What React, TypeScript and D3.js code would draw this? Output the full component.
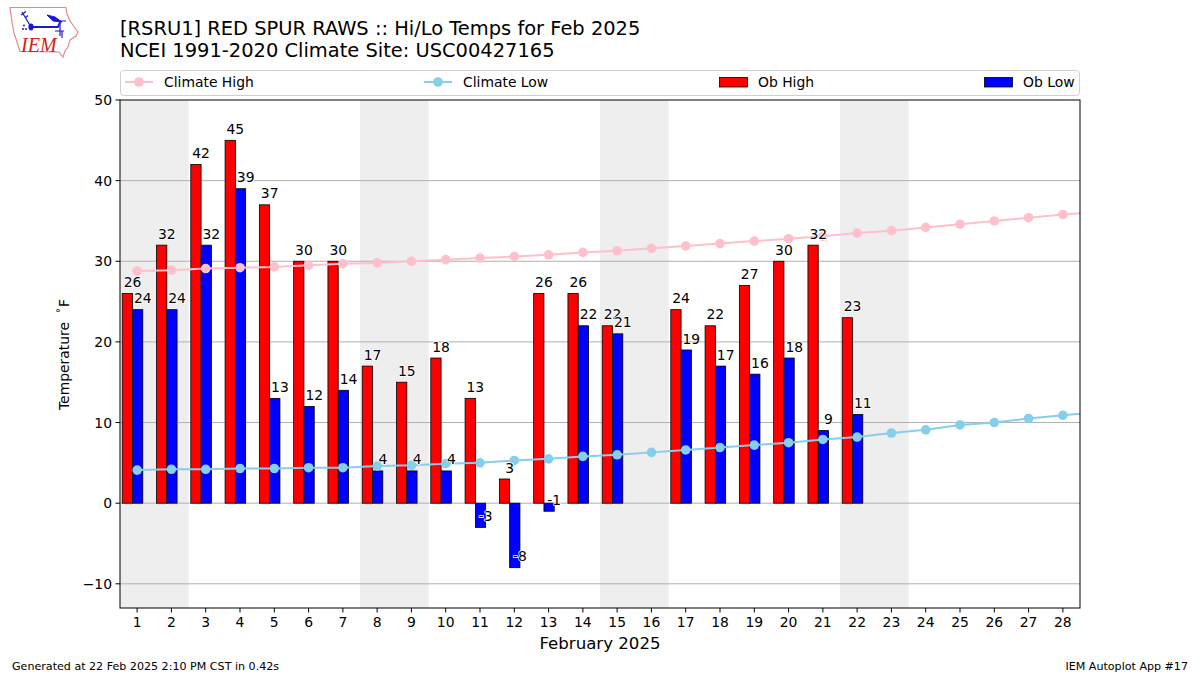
import React from "react";
import * as d3 from "d3";

const days = d3.range(1, 29);
const obHigh = [26, 32, 42, 45, 37, 30, 30, 17, 15, 18, 13, 3, 26, 26, 22, null, 24, 22, 27, 30, 32, 23];
const obLow = [24, 24, 32, 39, 13, 12, 14, 4, 4, 4, -3, -8, -1, 22, 21, null, 19, 17, 16, 18, 9, 11];
const climateHigh = [28.8, 28.9, 29.1, 29.2, 29.3, 29.5, 29.7, 29.8, 30.0, 30.2, 30.4, 30.6, 30.8, 31.1, 31.3, 31.6, 31.9, 32.2, 32.5, 32.8, 33.1, 33.5, 33.8, 34.2, 34.6, 35.0, 35.4, 35.8, 36.1];
const climateLow = [4.1, 4.2, 4.2, 4.3, 4.3, 4.4, 4.4, 4.6, 4.7, 4.9, 5.0, 5.3, 5.5, 5.8, 6.0, 6.3, 6.6, 6.9, 7.2, 7.5, 7.9, 8.2, 8.7, 9.1, 9.7, 10.0, 10.5, 10.9, 11.3];
const weekendBands = [[0.5, 2.5], [7.5, 9.5], [14.5, 16.5], [21.5, 23.5]];
const yTicks = [-10, 0, 10, 20, 30, 40, 50];
const titleLines = ["[RSRU1] RED SPUR RAWS :: Hi/Lo Temps for Feb 2025", "NCEI 1991-2020 Climate Site: USC00427165"];

const FONT = "'DejaVu Sans', sans-serif";
const box = { left: 120, right: 1080, top: 100, bottom: 608 };
const x = d3.scaleLinear().domain([0.5, 28.5]).range([box.left, box.right]);
const y = d3.scaleLinear().domain([50, -13]).range([box.top, box.bottom]);
const HIGH_START = -0.435, BAR_W = 0.3;
const line = d3.line<number>().x((_, i) => x(i + 1)).y((d) => y(d));

function Label({ px, py, text }: { px: number; py: number; text: string }) {
  return (
    <text x={px} y={py} textAnchor="middle" fontSize={13.9} fill="#000" stroke="#fff" strokeWidth={1.6}
      strokeLinejoin="round" paintOrder="stroke">{text}</text>
  );
}

function Logo() {
  return (
    <g>
      <path d="M10 7.5 L66 7.5 L67 14 L70 21 L78 32 L76 36 L70 40 L68 47 L65 51 L63 57 L59 52 L20 51.5 L17 42 L14 33 L12 22 Z"
        fill="none" stroke="#e58a8a" strokeWidth={1.2} />
      <path d="M22 12 L25 17 L31 27 M21 15 L26 11.5 M25 18 L28 15.5" fill="none" stroke="#1a1ad0" strokeWidth={1.3} />
      <path d="M31 27 L58 27 L60 22" fill="none" stroke="#1a1ad0" strokeWidth={1.8} />
      <ellipse cx={31} cy={27} rx={2.6} ry={3.4} fill="#1a1ad0" />
      <path d="M47 15 L55 17 L62 22 L53 21 Z M60 21 L66 21" fill="#1a1ad0" stroke="#1a1ad0" strokeWidth={1} />
      <path d="M60 21 L60 36 M55 31 L64 31 M62 31 L62 38" stroke="#1a1ad0" strokeWidth={1.2} fill="none" />
      <circle cx={24} cy={25.5} r={1} fill="#1a1ad0" /><circle cx={23} cy={29} r={1} fill="#1a1ad0" /><circle cx={26} cy={29} r={1} fill="#1a1ad0" />
      <text x={21} y={52} fontFamily="'Liberation Serif', serif" fontStyle="italic" fontSize={20} fill="#d32020">IEM</text>
    </g>
  );
}

export default function App() {
  return (
    <svg width={1200} height={675} viewBox="0 0 1200 675"
      style={{ position: "absolute", left: 0, top: 0, background: "#fff" }} fontFamily={FONT}>
      <defs>
        <clipPath id="plot"><rect x={box.left} y={box.top} width={box.right - box.left} height={box.bottom - box.top} /></clipPath>
      </defs>
      <Logo />
      {titleLines.map((t, i) => (
        <text key={t} x={120} y={35 + i * 22} fontSize={19.45} fill="#000">{t}</text>
      ))}

      <rect x={120.5} y={70.5} width={959} height={25} rx={3} fill="#fff" stroke="#d0d0d0" />
      <g fontSize={13.9} fill="#000">
        {[["Climate High", "pink", 125], ["Climate Low", "skyblue", 424]].map(([label, c, lx]) => (
          <g key={label as string}>
            <line x1={lx as number} x2={(lx as number) + 28} y1={82} y2={82} stroke={c as string} strokeWidth={2} />
            <circle cx={(lx as number) + 14} cy={82} r={4.8} fill={c as string} />
            <text x={(lx as number) + 39} y={87}>{label}</text>
          </g>
        ))}
        {[["Ob High", "#ff0000", 719], ["Ob Low", "#0000ff", 984]].map(([label, c, lx]) => (
          <g key={label as string}>
            <rect x={(lx as number) + 0.5} y={77.5} width={28} height={9.5} fill={c as string} stroke="#000" strokeWidth={0.8} />
            <text x={(lx as number) + 39} y={87}>{label}</text>
          </g>
        ))}
      </g>

      {weekendBands.map(([a, b]) => (
        <rect key={a} x={x(a)} y={box.top} width={x(b) - x(a)} height={box.bottom - box.top} fill="#eeeeee" />
      ))}
      {yTicks.filter((t) => t !== 50).map((t) => (
        <line key={t} x1={box.left} x2={box.right} y1={y(t)} y2={y(t)} stroke="#b0b0b0" strokeWidth={1} />
      ))}

      {obHigh.map((v, i) => v === null ? null : (
        <rect key={i} x={x(i + 1 + HIGH_START)} width={x(BAR_W) - x(0)} y={y(v)} height={y(0) - y(v)}
          fill="#ff0000" stroke="#000" strokeWidth={0.8} />
      ))}
      {obLow.map((v, i) => v === null ? null : (
        <rect key={i} x={x(i + 1 + HIGH_START + BAR_W)} width={x(BAR_W) - x(0)} y={Math.min(y(v), y(0))}
          height={Math.abs(y(0) - y(v))} fill="#0000ff" stroke="#000" strokeWidth={0.8} />
      ))}

      <g clipPath="url(#plot)">
        {[[climateHigh, "pink"], [climateLow, "skyblue"]].map(([vals, c]) => (
          <g key={c as string}>
            <path d={line(vals as number[]) as string} fill="none" stroke={c as string} strokeWidth={2} />
            {(vals as number[]).map((v, i) => (
              <circle key={i} cx={x(i + 1)} cy={y(v)} r={4.8} fill={c as string} />
            ))}
          </g>
        ))}
      </g>

      {obHigh.map((v, i) => v === null ? null : (
        <Label key={i} px={x(i + 1 + HIGH_START + BAR_W)} py={y(v + 0.8)} text={String(v)} />
      ))}
      {obLow.map((v, i) => v === null ? null : (
        <Label key={i} px={x(i + 1 + HIGH_START + 2 * BAR_W)} py={y(v + 0.8)} text={String(v)} />
      ))}

      <rect x={box.left} y={box.top} width={box.right - box.left} height={box.bottom - box.top} fill="none" stroke="#000" strokeWidth={1} />

      <g fontSize={13.9} fill="#000">
        {yTicks.map((t) => (
          <g key={t}>
            <line x1={box.left - 4.5} x2={box.left} y1={y(t)} y2={y(t)} stroke="#000" />
            <text x={box.left - 8} y={y(t) + 5} textAnchor="end">{t === -10 ? "\u221210" : t}</text>
          </g>
        ))}
        {days.map((d) => (
          <g key={d}>
            <line x1={x(d)} x2={x(d)} y1={box.bottom} y2={box.bottom + 4.5} stroke="#000" />
            <text x={x(d)} y={box.bottom + 19} textAnchor="middle">{d}</text>
          </g>
        ))}
      </g>

      <text x={600} y={649} textAnchor="middle" fontSize={16.6}>February 2025</text>
      <g transform="translate(68.5 410) rotate(-90)" fontSize={13.9}>
        <text x={0} y={0}>Temperature</text>
        <text x={97} y={-5} fontSize={9.7}>°</text>
        <text x={103} y={0}>F</text>
      </g>
      <text x={12} y={670} fontSize={11.1}>Generated at 22 Feb 2025 2:10 PM CST in 0.42s</text>
      <text x={1188} y={670} textAnchor="end" fontSize={11.1}>IEM Autoplot App #17</text>
    </svg>
  );
}
